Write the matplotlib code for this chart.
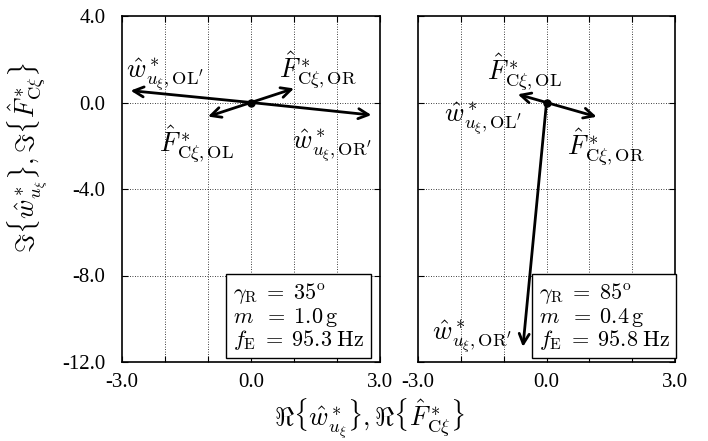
import matplotlib

matplotlib.use("Agg")
import matplotlib.pyplot as plt

plt.rcParams["mathtext.fontset"] = "cm"
plt.rcParams["font.family"] = ["Liberation Serif", "DejaVu Serif"]
plt.rcParams["font.size"] = 15

# phasor tips (real, imag), all starting at the origin
left_names = ["w_OL", "w_OR", "F_OL", "F_OR"]
left_re = [-2.8, 2.8, -1.0, 1.0]
left_im = [0.55, -0.58, -0.65, 0.65]

right_names = ["w_OR", "F_OL", "F_OR"]
right_re = [-0.55, -0.67, 1.17]
right_im = [-11.3, 0.38, -0.66]

# label text and where it sits (data coords, left-aligned)
W_OL = r"$\hat{w}^*_{u_\xi,\mathrm{OL}'}$"
W_OR = r"$\hat{w}^*_{u_\xi,\mathrm{OR}'}$"
F_OL = r"$\hat{F}^*_{\mathrm{C}\xi,\mathrm{OL}}$"
F_OR = r"$\hat{F}^*_{\mathrm{C}\xi,\mathrm{OR}}$"
left_labels = [(W_OL, -2.9, 1.3), (F_OR, 0.65, 1.5), (F_OL, -2.15, -1.95), (W_OR, 0.95, -2.0)]
right_labels = [(F_OL, -1.4, 1.4), (W_OL, -2.4, -0.75), (F_OR, 0.47, -2.1), (W_OR, -2.68, -10.8)]

params = [(35, 1.0, 95.3), (85, 0.4, 95.8)]
box_x = [0.407, 0.447]

yticks = [4, 0, -4, -8, -12]
xticks = [-3, 0, 3]
xminor = [-2, -1, 1, 2]

fig = plt.figure(figsize=(7.08, 4.41), dpi=100)
ax1 = fig.add_axes([122 / 708, 79 / 441, 258 / 708, 346 / 441])
ax2 = fig.add_axes([418 / 708, 79 / 441, 257 / 708, 346 / 441])


def draw_panel(ax, re, im, labels, p, bx):
    ax.set_xlim(-3, 3)
    ax.set_ylim(-12, 4)
    ax.set_xticks(xticks)
    ax.set_xticklabels([f"{v:.1f}" for v in xticks])
    ax.set_xticks(xminor, minor=True)
    ax.set_yticks(yticks)
    ax.tick_params(which="both", direction="in", top=True, right=True, length=4, width=0.8)
    ax.tick_params(axis="x", pad=8)
    ax.tick_params(axis="y", pad=12)
    for v in xminor + [0]:
        ax.axvline(v, color="k", ls=(0, (1, 2)), lw=0.6, zorder=0)
    for v in [0, -4, -8]:
        ax.axhline(v, color="k", ls=(0, (1, 2)), lw=0.6, zorder=0)
    for s in ax.spines.values():
        s.set_linewidth(1.2)
    for x, y in zip(re, im):
        ax.annotate("", xy=(x, y), xytext=(0, 0),
                    arrowprops=dict(arrowstyle="->", lw=2.0, color="k",
                                    shrinkA=0, shrinkB=0, mutation_scale=18))
    ax.plot([0], [0], "o", color="k", ms=5, zorder=5)
    for txt, x, y in labels:
        ax.text(x, y, txt, ha="left", va="center", fontsize=19)
    g, m, f = p
    box = (rf"$\gamma_\mathrm{{R}}\;=\;{g}^\mathrm{{o}}$" + "\n"
           + rf"$m\;\;=\;{m:.1f}\,\mathrm{{g}}$" + "\n"
           + rf"$f_\mathrm{{E}}\;=\;{f:.1f}\;\mathrm{{Hz}}$")
    ax.text(bx + 0.022, 0.03, box, transform=ax.transAxes, ha="left", va="bottom",
            fontsize=16, linespacing=0.95,
            bbox=dict(boxstyle="square,pad=0.3", fc="white", ec="k", lw=1.0))


draw_panel(ax1, left_re, left_im, left_labels, params[0], box_x[0])
draw_panel(ax2, right_re, right_im, right_labels, params[1], box_x[1])

ax1.set_yticklabels([f"{v:.1f}" for v in yticks])
ax2.set_yticklabels([])

fig.text(28 / 708, 1 - 157 / 441,
         r"$\Im\{\hat{w}^*_{u_\xi}\},\Im\{\hat{F}^*_{\mathrm{C}\xi}\}$",
         rotation=90, ha="center", va="center", fontsize=19)
fig.text(370 / 708, 15 / 441,
         r"$\Re\{\hat{w}^*_{u_\xi}\},\Re\{\hat{F}^*_{\mathrm{C}\xi}\}$",
         ha="center", va="baseline", fontsize=19)

fig.savefig("out.png", dpi=100)
